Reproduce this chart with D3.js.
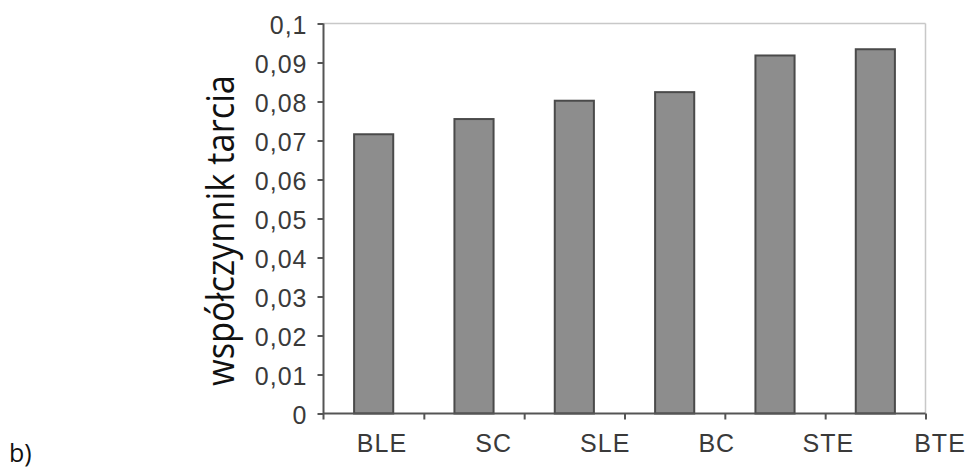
<!DOCTYPE html>
<html>
<head>
<meta charset="utf-8">
<script src="https://cdn.jsdelivr.net/npm/d3@7"></script>
<style>
  html, body { margin: 0; padding: 0; background: #fff; }
  svg { display: block; }
</style>
</head>
<body>
<svg id="chart" width="971" height="470"></svg>
<script>
// ---- data ----
const categories = ["BLE", "SC", "SLE", "BC", "STE", "BTE"];
const values = [0.0716, 0.0755, 0.0802, 0.0824, 0.0918, 0.0934];
const yTickValues = [0, 0.01, 0.02, 0.03, 0.04, 0.05, 0.06, 0.07, 0.08, 0.09, 0.1];
const yTickLabels = ["0", "0,01", "0,02", "0,03", "0,04", "0,05", "0,06", "0,07", "0,08", "0,09", "0,1"];
const yTitle = "współczynnik tarcia";
const panelLabel = "b)";

// ---- layout ----
const pL = 323.5, pR = 925.5, pT = 23.5, pB = 413.5;
const svg = d3.select("#chart");

const x = d3.scaleBand().domain(categories).range([pL, pR]).padding(0);
const y = d3.scaleLinear().domain([0, 0.1]).range([pB, pT]);
const barW = x.bandwidth() * 0.39;

// frame (top/right light)
svg.append("line").attr("x1", pL).attr("x2", pR).attr("y1", pT).attr("y2", pT)
  .attr("stroke", "#c8c8c8").attr("stroke-width", 1.5);
svg.append("line").attr("x1", pR).attr("x2", pR).attr("y1", pT).attr("y2", pB)
  .attr("stroke", "#c8c8c8").attr("stroke-width", 1.5);

// bars
svg.append("g").selectAll("rect").data(values).join("rect")
  .attr("x", (d, i) => x(categories[i]) + x.bandwidth() / 2 - barW / 2)
  .attr("y", d => y(d))
  .attr("width", barW)
  .attr("height", d => y(0) - y(d))
  .attr("fill", "#8d8d8d")
  .attr("stroke", "#4a4a4a")
  .attr("stroke-width", 2);

// y axis
const yAxis = svg.append("g").attr("transform", `translate(${pL},0)`)
  .call(d3.axisLeft(y).tickValues(yTickValues).tickSize(6).tickPadding(10)
    .tickFormat((d, i) => yTickLabels[i]));
yAxis.select(".domain").attr("stroke", "#555").attr("stroke-width", 2)
  .attr("d", `M0,${pT}V${pB + 6}`);
yAxis.selectAll(".tick line").attr("stroke", "#555").attr("stroke-width", 2);
yAxis.selectAll(".tick text").attr("fill", "#3a3a3a")
  .style("font-family", "'Liberation Sans', Arial, sans-serif").style("font-size", "25px")
  .style("letter-spacing", "1px")
  .attr("dy", "0.4em");

// x axis with ticks at band boundaries
const xIdx = d3.scaleLinear().domain([0, categories.length]).range([pL, pR]);
const xAxis = svg.append("g").attr("transform", `translate(0,${pB})`)
  .call(d3.axisBottom(xIdx).tickValues(d3.range(1, categories.length + 1)).tickSize(6).tickFormat(""));
xAxis.select(".domain").attr("stroke", "#555").attr("stroke-width", 2)
  .attr("d", `M${pL},0H${pR}`);
xAxis.selectAll(".tick line").attr("stroke", "#555").attr("stroke-width", 2);

// x labels (shifted as in the original)
const xl = d3.scalePoint().domain(categories).range([382, 940]);
svg.append("g").selectAll("text").data(categories).join("text")
  .attr("x", d => xl(d))
  .attr("y", 452)
  .attr("text-anchor", "middle")
  .attr("fill", "#3a3a3a")
  .style("font-family", "'Liberation Sans', Arial, sans-serif")
  .style("font-size", "25px")
  .style("letter-spacing", "1px")
  .text(d => d);

// y title
svg.append("text")
  .attr("transform", `translate(234,${(75 + 386) / 2}) rotate(-90)`)
  .attr("text-anchor", "middle")
  .attr("fill", "#111")
  .attr("textLength", 311)
  .attr("lengthAdjust", "spacingAndGlyphs")
  .style("font-family", "'Open Sans', Lato, sans-serif")
  .style("font-size", "38px")
  .text(yTitle);

// panel label
svg.append("text")
  .attr("x", 9).attr("y", 462)
  .attr("fill", "#111")
  .style("font-family", "'Open Sans', Lato, sans-serif")
  .style("font-size", "25px")
  .text(panelLabel);
</script>
</body>
</html>
